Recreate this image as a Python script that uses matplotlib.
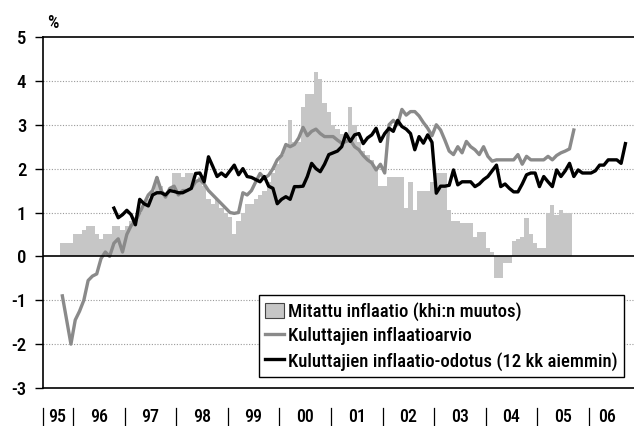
import numpy as np
import matplotlib
matplotlib.use("Agg")
import matplotlib.pyplot as plt
from matplotlib.patches import Patch
from matplotlib.lines import Line2D

plt.rcParams['font.family'] = ['Roboto Condensed', 'DejaVu Sans']
plt.rcParams['font.weight'] = 'medium'
plt.rcParams['axes.unicode_minus'] = False

# months are counted from Jan 1995 (= 0)
years = ["95", "96", "97", "98", "99", "00", "01", "02", "03", "04", "05", "06"]

# measured inflation (bars), Oct 1995 -> Aug 2005
measured_start = 9
measured = [0.3, 0.3, 0.3,
            0.5, 0.5, 0.6, 0.7, 0.7, 0.5, 0.4, 0.5, 0.5, 0.7, 0.7, 0.6,
            0.7, 0.8, 0.9, 1.0, 1.2, 1.3, 1.5, 1.8, 1.6, 1.4, 1.5, 1.9,
            1.9, 1.8, 1.9, 1.9, 1.7, 1.8, 1.6, 1.3, 1.2, 1.3, 1.1, 1.0,
            0.9, 0.5, 0.8, 1.0, 1.2, 1.2, 1.3, 1.4, 1.5, 1.7, 1.9, 2.1,
            2.3, 2.5, 3.1, 2.6, 2.6, 3.4, 3.7, 3.7, 4.2, 4.05, 3.5, 3.3,
            3.0, 2.9, 2.8, 2.8, 3.4, 3.0, 2.6, 2.4, 2.3, 2.2, 2.0, 1.6,
            1.6, 1.8, 1.8, 1.8, 1.8, 1.1, 1.7, 1.05, 1.5, 1.5, 1.5, 1.7,
            1.9, 1.9, 1.9, 1.05, 0.8, 0.8, 0.75, 0.75, 0.75, 0.45, 0.55, 0.55,
            0.2, 0.1, -0.5, -0.5, -0.15, -0.15, 0.35, 0.4, 0.45, 0.87, 0.5, 0.3,
            0.2, 0.2, 0.98, 1.17, 0.95, 1.05, 1.0, 1.0]

# consumers' inflation estimate, Oct 1995 -> Sep 2005
estimate_start = 9
estimate = [-0.9, -1.45, -2.0,
            -1.45, -1.25, -1.0, -0.55, -0.45, -0.4, -0.05, 0.1, 0.0, 0.3, 0.4, 0.1,
            0.5, 0.7, 0.8, 1.0, 1.2, 1.4, 1.5, 1.8, 1.5, 1.35, 1.55, 1.6,
            1.4, 1.5, 1.5, 1.55, 1.7, 1.75, 1.65, 1.5, 1.4, 1.3, 1.2, 1.1,
            1.0, 0.98, 1.0, 1.45, 1.4, 1.5, 1.7, 1.89, 1.78, 1.85, 2.0, 2.2,
            2.3, 2.55, 2.5, 2.55, 2.7, 2.94, 2.75, 2.85, 2.9, 2.8, 2.73, 2.73,
            2.73, 2.65, 2.58, 2.62, 2.65, 2.5, 2.43, 2.3, 2.2, 2.13, 1.97, 2.1,
            1.9, 3.0, 3.1, 3.0, 3.35, 3.22, 3.3, 3.3, 3.2, 3.05, 2.92, 2.75,
            3.0, 2.88, 2.65, 2.4, 2.32, 2.5, 2.36, 2.62, 2.5, 2.43, 2.32, 2.5,
            2.28, 2.17, 2.2, 2.2, 2.2, 2.2, 2.2, 2.32, 2.1, 2.28, 2.2, 2.2,
            2.2, 2.2, 2.28, 2.2, 2.3, 2.36, 2.4, 2.45, 2.88]

# consumers' inflation expectation (12 months earlier), Oct 1996 -> Sep 2006
expect_start = 21
expectation = [1.1, 0.88, 0.95,
               1.05, 0.95, 0.72, 1.3, 1.2, 1.15, 1.4, 1.45, 1.45, 1.4, 1.5, 1.48,
               1.45, 1.45, 1.5, 1.55, 1.89, 1.9, 1.7, 2.27, 2.05, 1.82, 1.9, 1.82,
               1.95, 2.08, 1.86, 2.0, 1.82, 1.8, 1.75, 1.7, 1.82, 1.6, 1.55, 1.2,
               1.3, 1.36, 1.3, 1.59, 1.59, 1.6, 1.82, 2.12, 2.0, 1.93, 2.1, 2.32,
               2.36, 2.4, 2.5, 2.8, 2.62, 2.77, 2.8, 2.57, 2.7, 2.77, 2.92, 2.62,
               2.8, 2.92, 2.85, 3.1, 2.96, 2.9, 2.8, 2.43, 2.73, 2.58, 2.77, 2.6,
               1.44, 1.6, 1.6, 1.62, 1.97, 1.63, 1.7, 1.7, 1.7, 1.59, 1.65, 1.75,
               1.82, 1.95, 2.08, 1.59, 1.65, 1.55, 1.47, 1.47, 1.65, 1.86, 1.9, 1.9,
               1.59, 1.82, 1.7, 1.59, 1.97, 1.82, 1.95, 2.12, 1.82, 1.97, 1.9, 1.9,
               1.9, 1.95, 2.08, 2.08, 2.2, 2.2, 2.2, 2.12, 2.57]

labels = ["Mitattu inflaatio (khi:n muutos)",
          "Kuluttajien inflaatioarvio",
          "Kuluttajien inflaatio-odotus (12 kk aiemmin)"]

bar_col = "#c6c6c6"
est_col = "#8a8a8a"

fig = plt.figure(figsize=(6.34, 4.26), dpi=100)
ax = fig.add_axes([43 / 634, 1 - 388 / 426, 1 - 43 / 634, 351 / 426])

x_meas = measured_start + np.arange(len(measured))
x_est = estimate_start + np.arange(len(estimate))
x_exp = expect_start + np.arange(len(expectation))

ax.bar(x_meas, measured, width=1.0, color=bar_col, linewidth=0, zorder=2)
ax.plot(x_est, estimate, color=est_col, lw=2.4, zorder=3)
ax.plot(x_exp, expectation, color="black", lw=2.4, zorder=4)

ax.set_xlim(4.5, 142)
ax.set_ylim(-3, 5)

# dotted grid and zero line
for v in [-2, -1, 1, 2, 3, 4]:
    ax.axhline(v, color="#9a9a9a", lw=0.8, ls=(0, (1, 1.5)), zorder=1)
ax.axhline(0, color="black", lw=1.2, zorder=5)

ax.spines["right"].set_visible(False)
for s in ["left", "top", "bottom"]:
    ax.spines[s].set_linewidth(1.2)

ax.set_yticks(range(-3, 6))
ax.tick_params(axis="y", length=6, width=1.0, labelsize=13.5, pad=6)
ax.set_xticks([])

# year separators and labels below the axis
seps = [4.5] + [12 * i - 0.5 for i in range(1, len(years))]
for sep in seps:
    ax.plot([sep, sep], [-0.058, -0.106], color="black", lw=0.9,
            transform=ax.get_xaxis_transform(), clip_on=False)
label_pos = [7.8] + [12 * i + 5.5 for i in range(1, 11)] + [135.7]
for pos, yr in zip(label_pos, years):
    ax.text(pos, -0.082, yr, transform=ax.get_xaxis_transform(),
            ha="center", va="center", fontsize=13)

fig.text(47 / 634, 1 - 23 / 426, "%", fontsize=13, va="center", ha="left")

handles = [Patch(facecolor=bar_col, edgecolor="#444444", linewidth=0.8),
           Line2D([], [], color=est_col, lw=2.4),
           Line2D([], [], color="black", lw=2.4)]
leg = ax.legend(handles, labels, loc="lower left", bbox_to_anchor=(0.365, 0.031),
                fontsize=13.5, frameon=True, fancybox=False, framealpha=1,
                edgecolor="black", handlelength=1.0, handleheight=0.9,
                handletextpad=0.2, borderpad=0.35, labelspacing=0.33,
                borderaxespad=0)
leg.get_frame().set_linewidth(1.0)
leg.set_zorder(10)

fig.savefig("out.png", dpi=100)
